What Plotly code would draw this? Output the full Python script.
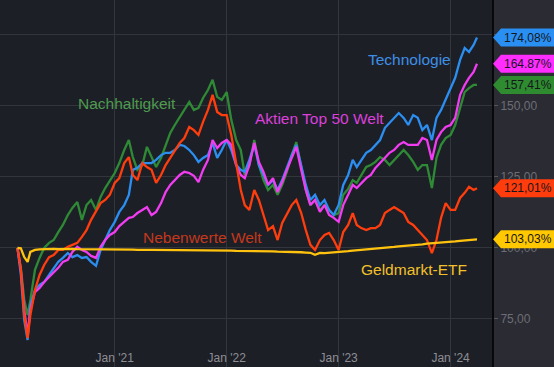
import plotly.graph_objects as go

dates = [
    "2020-02-19", "2020-03-01", "2020-03-12", "2020-03-23", "2020-04-01", "2020-04-16",
    "2020-05-01", "2020-05-16", "2020-06-01", "2020-06-16", "2020-07-01", "2020-07-16",
    "2020-08-01", "2020-08-16", "2020-09-01", "2020-09-16", "2020-10-01", "2020-10-16",
    "2020-11-01", "2020-11-16", "2020-12-01", "2020-12-16",
    "2021-01-01", "2021-01-16", "2021-02-01", "2021-02-16", "2021-03-01", "2021-03-16",
    "2021-04-01", "2021-04-16", "2021-05-01", "2021-05-16", "2021-06-01", "2021-06-16",
    "2021-07-01", "2021-07-16", "2021-08-01", "2021-08-16", "2021-09-01", "2021-09-16",
    "2021-10-01", "2021-10-16", "2021-11-01", "2021-11-16", "2021-12-01", "2021-12-16",
    "2022-01-01", "2022-01-16", "2022-02-01", "2022-02-16", "2022-03-01", "2022-03-16",
    "2022-04-01", "2022-04-16", "2022-05-01", "2022-05-16", "2022-06-01", "2022-06-16",
    "2022-07-01", "2022-07-16", "2022-08-01", "2022-08-16", "2022-09-01", "2022-09-16",
    "2022-10-01", "2022-10-16", "2022-11-01", "2022-11-16", "2022-12-01", "2022-12-16",
    "2023-01-01", "2023-01-16", "2023-02-01", "2023-02-16", "2023-03-01", "2023-03-16",
    "2023-04-01", "2023-04-16", "2023-05-01", "2023-05-16", "2023-06-01", "2023-06-16",
    "2023-07-01", "2023-07-16", "2023-08-01", "2023-08-16", "2023-09-01", "2023-09-16",
    "2023-10-01", "2023-10-16", "2023-11-01", "2023-11-16", "2023-12-01", "2023-12-16",
    "2024-01-01", "2024-01-16", "2024-02-01", "2024-02-16", "2024-03-01", "2024-03-16",
    "2024-03-27",
]

technologie = [
    100.0, 90.5, 74.6, 67.6, 79.9, 85.2, 87.0, 88.0, 90.5, 93.0, 95.1, 96.5,
    98.2, 96.8, 97.5, 96.5, 96.8, 95.1, 93.7, 99.3, 102.8, 106.3,
    109.2, 112.7, 115.1, 118.7, 127.5, 128.2, 129.9, 129.9, 129.9, 131.0, 132.7, 133.5,
    133.5, 134.5, 136.3, 135.9, 134.5, 132.7, 130.3, 131.7, 132.7, 137.0, 131.7, 134.5,
    138.0, 134.5, 129.2, 127.5, 126.8, 131.0, 136.3, 129.2, 125.7, 122.2, 123.9, 120.4,
    123.9, 128.2, 132.7, 136.3, 129.2, 122.2, 116.9, 118.7, 115.1, 116.9, 113.4, 111.6,
    115.1, 122.2, 125.7, 131.0, 128.5, 131.0, 133.5, 134.5, 136.3, 138.0, 142.3, 144.0,
    145.8, 147.5, 145.8, 143.3, 146.8, 145.8, 141.5, 143.3, 138.0, 145.8, 148.6, 152.1,
    156.3, 159.9, 166.2, 170.4, 169.0, 171.5, 174.08,
]

aktien_top50 = [
    100.0, 92.3, 78.2, 69.4, 78.2, 84.5, 85.9, 88.0, 89.8, 91.5, 93.0, 95.1,
    95.8, 98.6, 100.4, 99.3, 98.6, 97.2, 96.5, 100.4, 102.8, 104.6,
    105.6, 107.7, 109.2, 110.6, 110.9, 112.3, 113.4, 114.4, 111.6, 112.7, 115.8, 119.7,
    122.2, 123.9, 125.7, 126.8, 126.4, 125.4, 123.2, 127.5, 131.0, 138.0, 135.2, 137.0,
    138.0, 136.3, 129.2, 125.7, 124.6, 129.2, 137.0, 130.3, 126.8, 122.2, 124.6, 119.7,
    123.2, 127.5, 131.7, 135.6, 127.5, 120.4, 115.1, 116.9, 112.7, 115.1, 111.6, 110.6,
    109.2, 115.1, 118.7, 122.2, 121.1, 122.9, 124.6, 125.7, 128.2, 129.9, 131.7, 133.5,
    134.5, 136.3, 137.3, 136.3, 136.3, 136.3, 138.7, 138.0, 131.0, 138.0, 140.8, 142.6,
    143.3, 145.8, 153.9, 157.4, 159.9, 162.0, 164.87,
]

nachhaltigkeit = [
    100.0, 93.0, 81.7, 76.4, 81.7, 92.3, 96.5, 100.0, 101.8, 102.8, 105.6, 108.1,
    111.6, 114.1, 116.2, 109.9, 115.1, 116.9, 113.4, 118.0, 121.1, 123.9,
    126.4, 129.9, 134.5, 138.0, 132.0, 127.5, 129.2, 135.6, 132.0, 128.5, 131.7, 136.3,
    140.5, 143.3, 146.1, 148.6, 151.4, 148.6, 149.3, 152.8, 155.6, 159.2, 153.2, 152.1,
    154.9, 145.1, 138.0, 134.5, 125.7, 129.2, 138.0, 129.2, 123.9, 120.4, 122.2, 118.7,
    122.2, 126.8, 132.7, 137.3, 129.2, 120.4, 115.1, 116.9, 113.4, 115.1, 113.4, 111.6,
    112.3, 118.7, 120.8, 123.9, 122.9, 125.7, 128.5, 129.2, 130.3, 132.0, 131.0, 129.2,
    131.0, 132.7, 134.5, 132.7, 130.3, 127.5, 129.2, 129.2, 121.1, 131.7, 136.3, 138.7,
    139.8, 143.3, 149.3, 154.9, 156.3, 157.4, 157.41,
]

nebenwerte = [
    100.0, 92.3, 76.4, 68.3, 76.4, 85.2, 90.5, 94.0, 96.8, 97.5, 99.3, 99.3,
    100.4, 101.1, 101.8, 103.9, 106.3, 109.9, 112.7, 115.8, 116.9, 118.7,
    122.9, 124.6, 129.9, 132.0, 125.7, 123.9, 129.9, 128.5, 127.5, 122.9, 125.7, 129.2,
    131.7, 134.5, 137.0, 138.7, 142.6, 141.5, 139.8, 144.4, 148.6, 153.9, 147.9, 146.8,
    146.8, 139.8, 129.2, 120.4, 115.1, 113.4, 120.4, 116.9, 111.6, 106.3, 107.7, 102.8,
    108.8, 111.6, 115.1, 116.9, 112.3, 106.3, 101.1, 99.3, 102.8, 104.6, 105.3, 102.8,
    99.3, 105.6, 108.1, 112.3, 108.1, 107.0, 106.3, 107.0, 107.0, 108.1, 112.3, 113.4,
    114.4, 113.4, 112.3, 109.2, 108.1, 106.3, 104.6, 102.8, 98.2, 102.8, 110.6, 115.8,
    113.4, 113.4, 117.6, 119.4, 121.5, 120.4, 121.01,
]

geldmarkt = [
    100.0, 99.9, 96.8, 95.1, 98.6, 99.3, 99.5, 99.6, 99.6, 99.7, 99.6, 99.7,
    99.6, 99.7, 99.6, 99.6, 99.6, 99.5, 99.5, 99.5, 99.5, 99.5,
    99.4, 99.4, 99.4, 99.4, 99.4, 99.3, 99.4, 99.3, 99.3, 99.3, 99.3, 99.3,
    99.3, 99.3, 99.3, 99.3, 99.3, 99.2, 99.2, 99.2, 99.2, 99.2, 99.1, 99.1,
    99.1, 99.1, 99.0, 99.0, 99.0, 98.9, 98.9, 98.9, 98.8, 98.8, 98.8, 98.7,
    98.7, 98.7, 98.6, 98.6, 98.5, 98.4, 98.3, 97.6, 98.3, 98.2, 98.3, 98.4,
    98.6, 98.8, 98.9, 99.1, 99.2, 99.4, 99.5, 99.7, 99.8, 100.0, 100.1, 100.3,
    100.4, 100.6, 100.7, 100.9, 101.0, 101.2, 101.3, 101.5, 101.6, 101.8, 101.9, 102.1,
    102.2, 102.3, 102.5, 102.6, 102.8, 102.9, 103.03,
]

series_names = ["Nachhaltigkeit", "Technologie", "Aktien Top 50 Welt", "Nebenwerte Welt", "Geldmarkt-ETF"]
series_values = [nachhaltigkeit, technologie, aktien_top50, nebenwerte, geldmarkt]
series_colors = ["#2f8a35", "#2b8ef0", "#f23cf2", "#ff3d0d", "#ffc20e"]
tag_colors = ["#2e8b30", "#2a8ff2", "#ff2dff", "#ff3c0c", "#ffc800"]
tag_labels = ["157,41%", "174,08%", "164.87%", "121,01%", "103,03%"]

label_texts = ["Nachhaltigkeit", "Technologie", "Aktien Top 50 Welt", "Nebenwerte Welt", "Geldmarkt-ETF"]
label_colors = ["#4e9b4e", "#3d8fe6", "#dc40dc", "#c4381b", "#f2c12a"]
label_pos = [(0.258, 0.717), (0.833, 0.837), (0.650, 0.676), (0.411, 0.354), (0.841, 0.267)]

y_ticks = [75, 100, 125, 150, 175]
x_ticks = ["2021-01-01", "2022-01-01", "2023-01-01", "2024-01-01"]
x_tick_text = ["Jan '21", "Jan '22", "Jan '23", "Jan '24"]

FONT = "Liberation Sans, Arial, sans-serif"

fig = go.Figure()
for name, vals, col in zip(series_names, series_values, series_colors):
    fig.add_trace(go.Scatter(x=dates, y=vals, mode="lines", name=name,
                             line=dict(color=col, width=2.3), hoverinfo="skip"))

shapes = []
annotations = []
for vals, tc, tl in zip(series_values, tag_colors, tag_labels):
    last = vals[-1]
    shapes.append(dict(type="path", xref="paper", yref="y",
                       xsizemode="pixel", ysizemode="pixel", xanchor=1, yanchor=last,
                       path="M1,0 L9,9 L62,9 L62,-9 L9,-9 Z",
                       fillcolor=tc, line=dict(width=0), layer="above"))
    annotations.append(dict(xref="paper", yref="y", x=1, y=last, xanchor="left", yanchor="middle",
                            xshift=10, text=tl, showarrow=False,
                            font=dict(family=FONT, size=12, color="#16171c")))

for t, c, (px, py) in zip(label_texts, label_colors, label_pos):
    annotations.append(dict(xref="paper", yref="paper", x=px, y=py, text=t, showarrow=False,
                            xanchor="center", yanchor="middle",
                            font=dict(family=FONT, size=15.5, color=c)))

fig.update_layout(
    width=554, height=367,
    margin=dict(l=0, r=62, t=0, b=0),
    paper_bgcolor="#2a2b33",
    plot_bgcolor="#1d1f27",
    showlegend=False,
    separators=",.",
    font=dict(family=FONT),
    shapes=shapes,
    annotations=annotations,
    xaxis=dict(type="date", range=["2019-12-24", "2024-05-15"],
               tickvals=x_ticks, ticktext=x_tick_text,
               ticklabelposition="inside", ticks="",
               showgrid=True, gridcolor="#33353d", gridwidth=1,
               zeroline=False, showline=False,
               tickfont=dict(family=FONT, size=12, color="#8d8e94")),
    yaxis=dict(side="right", range=[58.1, 187.3], tickvals=y_ticks,
               tickformat=".2f", ticksuffix="%",
               showgrid=True, gridcolor="#33353d", gridwidth=1,
               zeroline=False, showline=True, linecolor="#08080a", linewidth=2,
               ticks="outside", ticklen=4, tickcolor="#55565c",
               tickfont=dict(family=FONT, size=12, color="#6d6e75")),
)

fig.write_html("out.html", config={"displayModeBar": False},
               post_script="document.body.style.margin='0';document.body.style.overflow='hidden';")
